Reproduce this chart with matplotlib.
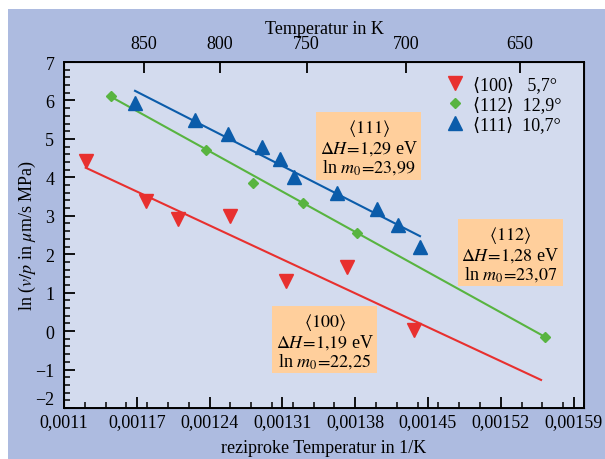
import numpy as np
import matplotlib
matplotlib.use("Agg")
import matplotlib.pyplot as plt
from matplotlib.patches import Rectangle

plt.rcParams['font.family'] = ['Liberation Serif', 'DejaVu Serif', 'DejaVu Sans']
plt.rcParams['mathtext.fontset'] = 'stix'

# data
x100 = [0.0011209, 0.0011788, 0.0012093, 0.0012596, 0.0013135, 0.0013721, 0.0014365]
y100 = [4.43, 3.39, 2.91, 2.99, 1.30, 1.67, 0.04]
x112 = [0.0011449, 0.0012370, 0.0012817, 0.0013298, 0.0013817, 0.0015625]
y112 = [6.11, 4.72, 3.86, 3.33, 2.55, -0.15]
x111 = [0.0011683, 0.0012260, 0.0012574, 0.0012904, 0.0013077, 0.0013212,
        0.0013625, 0.0014010, 0.0014212, 0.0014423]
y111 = [5.93, 5.48, 5.12, 4.78, 4.48, 4.01, 3.59, 3.18, 2.76, 2.19]

# fit lines (end points)
fit100_x = [0.0011209, 0.0015587]
fit100_y = [4.25, -1.27]
fit112_x = [0.0011449, 0.0015625]
fit112_y = [6.10, -0.15]
fit111_x = [0.0011683, 0.0014423]
fit111_y = [6.25, 2.47]

xticks = [0.0011, 0.00117, 0.00124, 0.00131, 0.00138, 0.00145, 0.00152, 0.00159]
xticklabels = ["0,0011", "0,00117", "0,00124", "0,00131", "0,00138",
               "0,00145", "0,00152", "0,00159"]
temps = [850, 800, 750, 700, 650]
yticks = list(range(-2, 8))

labels = ["\u27e8100\u27e9   5,7°", "\u27e8112\u27e9  12,9°", "\u27e8111\u27e9  10,7°"]
boxes = [
    (r"$\langle 111\rangle$" "\n" r"$\Delta H\!=\!1{,}29$ eV" "\n" r"ln $m_0\!=\!23{,}99$",
     0.0013928, 4.80),
    (r"$\langle 112\rangle$" "\n" r"$\Delta H\!=\!1{,}28$ eV" "\n" r"ln $m_0\!=\!23{,}07$",
     0.0015293, 2.02),
    (r"$\langle 100\rangle$" "\n" r"$\Delta H\!=\!1{,}19$ eV" "\n" r"ln $m_0\!=\!22{,}25$",
     0.0013505, -0.245),
]

red = "#E8302F"
green = "#58B440"
blue = "#0B5CAA"
outer = "#ADBBE0"
inner = "#D3DBEE"
peach = "#FFCF9C"

fig = plt.figure(figsize=(6.05, 4.6), dpi=100)
fig.patch.set_facecolor("white")
fig.patches.append(Rectangle((8 / 605, 0), 1, 1 - 10 / 460, transform=fig.transFigure,
                             facecolor=outer, edgecolor="none", zorder=-10))

ax = fig.add_axes([64 / 605, 1 - 409 / 460, 520 / 605, 346 / 460])
ax.set_facecolor(inner)

ax.plot(fit100_x, fit100_y, color=red, lw=1.5)
ax.plot(fit112_x, fit112_y, color=green, lw=1.5)
ax.plot(fit111_x, fit111_y, color=blue, lw=1.5)
h1, = ax.plot(x100, y100, "v", color=red, ms=9.5, ls="none")
h2, = ax.plot(x112, y112, "D", color=green, ms=5.5, ls="none")
h3, = ax.plot(x111, y111, "^", color=blue, ms=9.5, ls="none")

for txt, bx, by in boxes:
    ax.text(bx, by, txt, ha="center", va="center", multialignment="center",
            fontsize=13, linespacing=1.0,
            bbox=dict(boxstyle="square,pad=0.2", fc=peach, ec="none"))

ax.set_xlim(0.0011, 0.0016)
ax.set_ylim(-2, 7)
ax.set_xticks(xticks)
ax.set_xticklabels(xticklabels)
ax.set_xticks(np.arange(0.00112, 0.0016, 0.00002), minor=True)
ax.set_yticks(yticks)
ax.set_yticklabels([str(v).replace("-", "\u2212") for v in yticks])
ax.get_yticklabels()[0].set_verticalalignment("bottom")
ax.set_yticks(np.arange(-2, 7.01, 0.2), minor=True)
ax.tick_params(which="major", direction="in", length=8, width=1.3, labelsize=13,
               top=False, right=False, pad=4)
ax.tick_params(axis="y", which="major", pad=7)
ax.tick_params(which="minor", direction="in", length=4.5, width=1.1, top=False, right=False)
for s in ax.spines.values():
    s.set_linewidth(1.4)

ax.set_xlabel("reziproke Temperatur in 1/K", fontsize=13, labelpad=6)
ax.set_ylabel(r"ln ($v/p$ in $\mu$m/s MPa)", fontsize=13, labelpad=-2)

ax2 = ax.twiny()
ax2.set_xlim(ax.get_xlim())
ax2.set_xticks([1 / t for t in temps])
ax2.set_xticklabels([str(t) for t in temps])
ax2.tick_params(direction="in", length=8, width=1.3, labelsize=13, pad=7)
ax2.set_xlabel("Temperatur in K", fontsize=13, labelpad=2)

ax.legend([h1, h2, h3], labels, loc="upper right", bbox_to_anchor=(0.985, 1.0),
          frameon=False, fontsize=13, handletextpad=0.5, labelspacing=0.15,
          handlelength=1.0, borderpad=0.3)

fig.savefig("out.png", dpi=100, facecolor=fig.get_facecolor())
